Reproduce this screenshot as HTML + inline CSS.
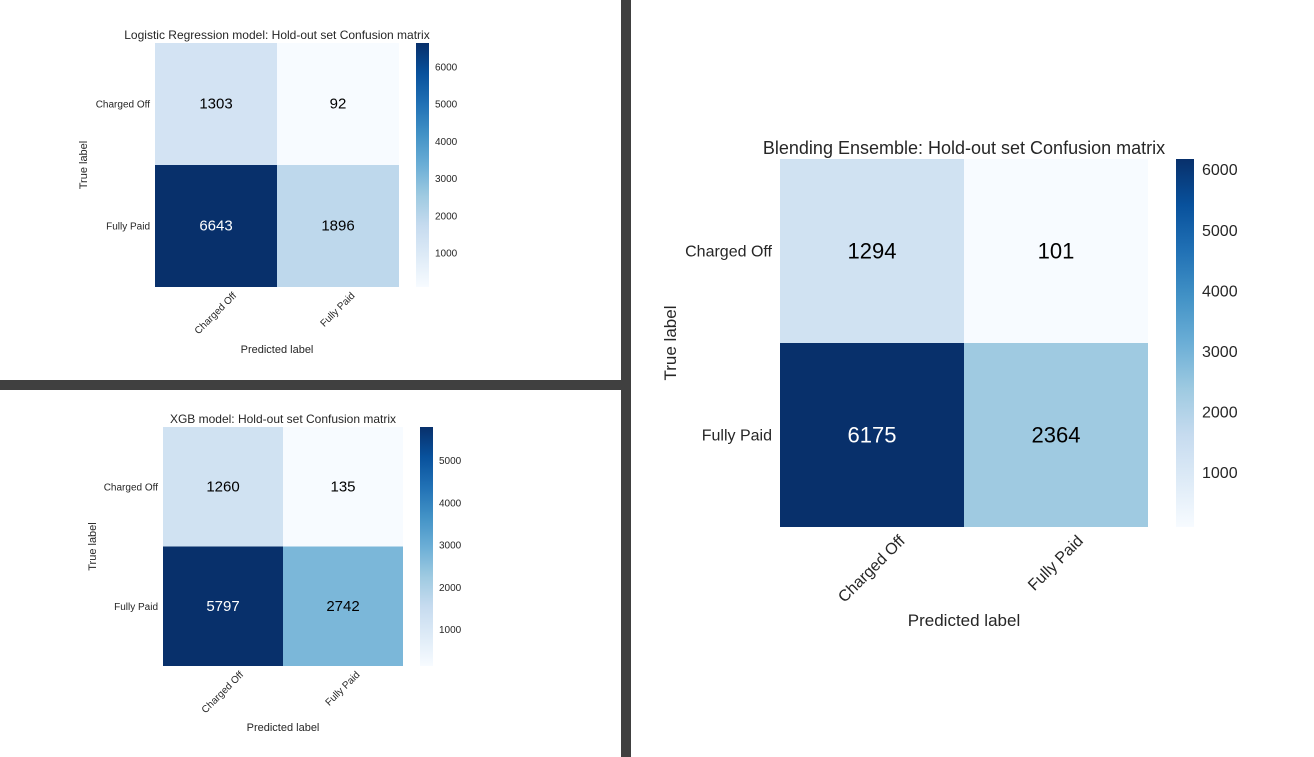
<!DOCTYPE html>
<html><head><meta charset="utf-8">
<style>
html,body{margin:0;padding:0;background:#fff;}
body{width:1314px;height:757px;position:relative;overflow:hidden;font-family:"Liberation Sans",Arial,sans-serif;}
.bar{position:absolute;background:#404040;}
svg{position:absolute;left:0;top:0;}
</style></head>
<body>
<div class="bar" style="left:621px;top:0;width:10px;height:757px"></div>
<div class="bar" style="left:0;top:380px;width:621px;height:10px"></div>
<svg id="chart" width="1314" height="757">
<defs>
<linearGradient id="blues" x1="0" y1="1" x2="0" y2="0">
<stop offset="0" stop-color="#f7fbff"/><stop offset="0.125" stop-color="#deebf7"/><stop offset="0.25" stop-color="#c6dbef"/><stop offset="0.375" stop-color="#9ecae1"/><stop offset="0.5" stop-color="#6baed6"/><stop offset="0.625" stop-color="#4292c6"/><stop offset="0.75" stop-color="#2171b5"/><stop offset="0.875" stop-color="#08519c"/><stop offset="1" stop-color="#08306b"/>
</linearGradient>
</defs>
</svg>
<script>
const classLabels = ["Charged Off", "Fully Paid"];
const lrValues = [[1303, 92], [6643, 1896]];
const xgbValues = [[1260, 135], [5797, 2742]];
const blendValues = [[1294, 101], [6175, 2364]];
const lrTitle = "Logistic Regression model: Hold-out set Confusion matrix";
const xgbTitle = "XGB model: Hold-out set Confusion matrix";
const blendTitle = "Blending Ensemble: Hold-out set Confusion matrix";
const colorbarTicks = [1000, 2000, 3000, 4000, 5000, 6000];

const stops = ["#f7fbff","#deebf7","#c6dbef","#9ecae1","#6baed6","#4292c6","#2171b5","#08519c","#08306b"];
function hex(c){return [1,3,5].map(i=>parseInt(c.substr(i,2),16));}
function blues(t){
  t=Math.max(0,Math.min(1,t));
  const p=t*(stops.length-1), i=Math.min(Math.floor(p),stops.length-2), f=p-i;
  const a=hex(stops[i]), b=hex(stops[i+1]);
  return "rgb("+a.map((v,k)=>Math.round(v+(b[k]-v)*f)).join(",")+")";
}
const NS="http://www.w3.org/2000/svg";
const svg=document.getElementById("chart");
function mk(tag, attrs, text){
  const e=document.createElementNS(NS,tag);
  for(const k in attrs) e.setAttribute(k,attrs[k]);
  if(text!==undefined) e.textContent=text;
  svg.appendChild(e);
  return e;
}
function draw(prefix, values, title, L){
  const flat=values.flat();
  const vmin=Math.min(...flat), vmax=Math.max(...flat);
  const n=classLabels.length;
  const cw=(L.x1-L.x0)/n, ch=(L.y1-L.y0)/n;
  const xPos=j=>L.x0+j*cw, yPos=i=>L.y0+i*ch;
  const cbY=v=>L.y1-(v-vmin)/(vmax-vmin)*(L.y1-L.y0);
  let t=mk("text",{x:(L.x0+L.x1)/2,y:L.y0-L.titleGap,"text-anchor":"middle","font-size":L.fs.title,fill:"#262626"},title);
  
  
  values.forEach((row,i)=>row.forEach((v,j)=>{
    const r=mk("rect",{x:xPos(j),y:yPos(i),width:cw,height:ch,fill:blues((v-vmin)/(vmax-vmin))});
    
    
    const a=mk("text",{x:xPos(j)+cw/2,y:yPos(i)+ch/2,"text-anchor":"middle","dominant-baseline":"central","font-size":L.fs.annot,fill:v>vmax/2?"#ffffff":"#000000"},String(v));
    
    
  }));
  classLabels.forEach((lab,i)=>{
    const y=mk("text",{x:L.x0-L.ytickGap,y:yPos(i)+ch/2+L.fs.tick*0.35,"text-anchor":"end","font-size":L.fs.tick,fill:"#262626"},lab);
    
    
    const cx=xPos(i)+cw/2;
    const x=mk("text",{x:cx,y:0,"text-anchor":"middle","dominant-baseline":"central","font-size":L.fs.tick,fill:"#262626"},lab);
    const w=x.getComputedTextLength();
    const cy=L.y1+L.xtickGap+(w+L.fs.tick)*0.7071/2;
    x.setAttribute("y",cy);
    x.setAttribute("transform","rotate(-45 "+cx+" "+cy+")");
    
    
  });
  const yl=mk("text",{x:L.ylabX,y:(L.y0+L.y1)/2,"text-anchor":"middle","font-size":L.fs.label,fill:"#262626",transform:"rotate(-90 "+L.ylabX+" "+(L.y0+L.y1)/2+")"},"True label");
  
  
  const xl=mk("text",{x:(L.x0+L.x1)/2,y:L.xlabY,"text-anchor":"middle","font-size":L.fs.label,fill:"#262626"},"Predicted label");
  
  
  const cb=mk("rect",{x:L.cbx,y:L.y0,width:L.cbw,height:L.y1-L.y0,fill:"url(#blues)"});
  
  
  colorbarTicks.filter(v=>v>=vmin&&v<=vmax).forEach(v=>{
    const tk=mk("text",{x:L.cbx+L.cbw+L.cbGap,y:cbY(v)+L.fs.cb*0.35,"font-size":L.fs.cb,fill:"#262626"},String(v));
    
    
  });
}
draw("lr", lrValues, lrTitle, {x0:155,x1:399,y0:43,y1:287,titleGap:4,ytickGap:5,xtickGap:4,ylabX:87,xlabY:353,cbx:416,cbw:13,cbGap:6,fs:{title:12,annot:15,tick:10,label:11,cb:10}});
draw("xgb", xgbValues, xgbTitle, {x0:163,x1:403,y0:427,y1:666,titleGap:4,ytickGap:5,xtickGap:4,ylabX:96,xlabY:731,cbx:420,cbw:13,cbGap:6,fs:{title:12,annot:15,tick:10,label:11,cb:10}});
draw("blend", blendValues, blendTitle, {x0:780,x1:1148,y0:159,y1:527,titleGap:5,ytickGap:8,xtickGap:6,ylabX:676,xlabY:626,cbx:1176,cbw:18,cbGap:8,fs:{title:18,annot:22,tick:16,label:17,cb:16}});
</script>
</body></html>
